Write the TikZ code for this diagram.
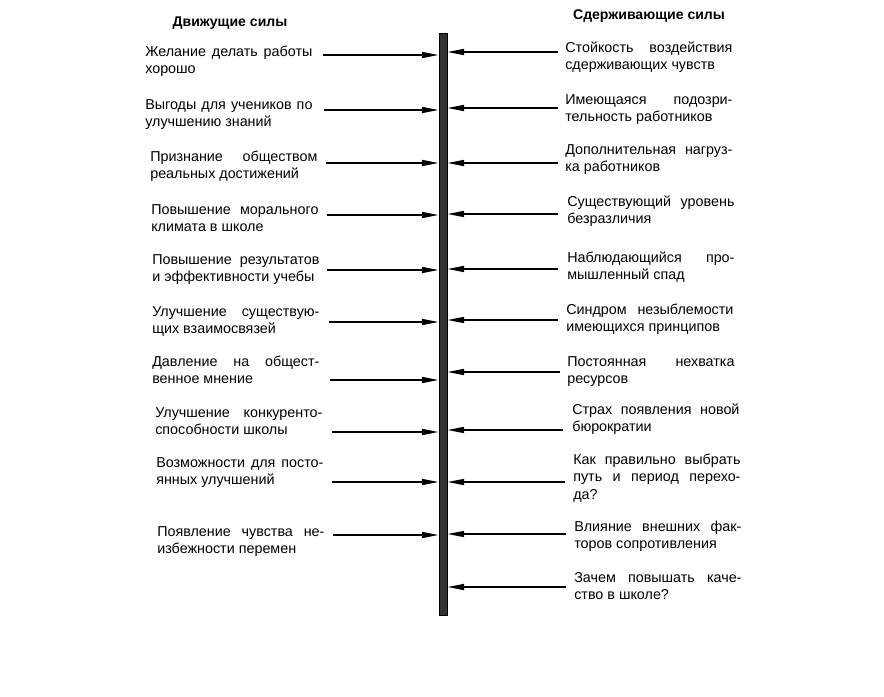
\documentclass[tikz,border=0pt]{standalone}
\usepackage{fontspec}
\setmainfont{Liberation Sans}
\usetikzlibrary{arrows.meta}
\tikzset{
  head/.style={font=\bfseries\fontsize{10}{12}\selectfont,inner sep=0pt},
  frc/.style={anchor=base west,inner sep=0pt,text width=41.8mm,align=justify,
    font=\fontsize{10.2}{12.45}\selectfont,
    execute at begin node={\tolerance=10000\hyphenpenalty=10000\relax}},
  push/.style={-{Triangle[length=4.2mm,width=1.5mm]},line width=1.2pt},
  bar/.style={draw=black,fill=black!80,line width=0.6pt,minimum width=2mm,minimum height=145.5mm,inner sep=0pt},
}

\begin{document}
\begin{tikzpicture}[x=0.25mm,y=-0.25mm]
  \useasboundingbox (0,0) rectangle (884,696);
  % the line of balance
  \node[bar] (bar) at (443,324) {};
  % headings
  \node[head] (hl) at (230,23) {Движущие силы};
  \node[head] (hr) at (649,16) {Сдерживающие силы};
  % driving forces
  \foreach \i/\x/\t/\a/\s/\txt in {
     1/145/56/55/323/{Желание делать работы\linebreak хорошо},
     2/145/109/110/324/{Выгоды для учеников по\linebreak улучшению знаний},
     3/150/161/163/326/{Признание обществом\linebreak реальных достижений},
     4/151/214/215/327/{Повышение морального\linebreak климата в школе},
     5/152/264/270/327/{Повышение результатов\linebreak и эффективности учебы},
     6/152/316/322/329/{Улучшение существую-\linebreak щих взаимосвязей},
     7/152/366/380/330/{Давление на общест-\linebreak венное мнение},
     8/155/417/432/332/{Улучшение конкуренто-\linebreak способности школы},
     9/156/467/482/332/{Возможности для посто-\linebreak янных улучшений},
     10/157/536/535/333/{Появление чувства не-\linebreak избежности перемен}}{
    \node[frc] (l\i) at (\x,\t) {\txt};
    \coordinate (la\i) at (\s,\a);
    \draw[push] (la\i) -- (la\i -| bar.west);
  }
  % restraining forces
  \foreach \i/\x/\t/\a/\s/\txt in {
     1/565/52/52/558/{Стойкость воздействия\linebreak сдерживающих чувств},
     2/565/104/108/558/{Имеющаяся подозри-\linebreak тельность работников},
     3/565/154/163/558/{Дополнительная нагруз-\linebreak ка работников},
     4/567/206/214/558/{Существующий уровень\linebreak безразличия},
     5/567/262/269/558/{Наблюдающийся про-\linebreak мышленный спад},
     6/566/314/320/558/{Синдром незыблемости\linebreak имеющихся принципов},
     7/567/366/372/560/{Постоянная нехватка\linebreak ресурсов},
     8/572/414/430/563/{Страх появления новой\linebreak бюрократии},
     9/573/464/482/565/{Как правильно выбрать\linebreak путь и период перехо-\linebreak да?},
     10/574/531/534/566/{Влияние внешних фак-\linebreak торов сопротивления},
     11/574/582/587/566/{Зачем повышать каче-\linebreak ство в школе?}}{
    \node[frc] (r\i) at (\x,\t) {\txt};
    \coordinate (ra\i) at (\s,\a);
    \draw[push] (ra\i) -- (ra\i -| bar.east);
  }
\end{tikzpicture}
\end{document}
